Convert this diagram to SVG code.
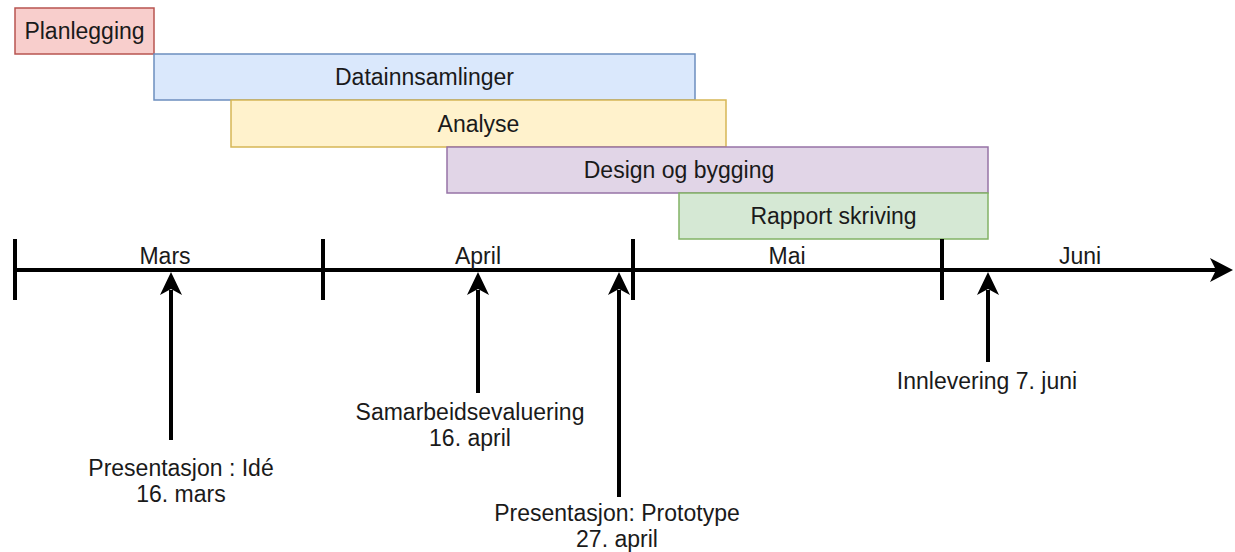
<svg xmlns="http://www.w3.org/2000/svg" width="1235" height="552" viewBox="0 0 1235 552">
<style>
  text { font-family: "Liberation Sans", Arial, Helvetica, sans-serif; font-size: 23px; fill: #1a1a1a; text-anchor: middle; }
  .bar { stroke-width: 1.5; }
  .line { stroke: #000; stroke-width: 4; fill: none; }
  .head { fill: #000; }
</style>
<rect width="1235" height="552" fill="#fff"/>
<g id="planlegging"><rect class="bar" x="15" y="8" width="139" height="46" fill="#f8cecc" stroke="#b85450"/><text x="84.5" y="39">Planlegging</text></g>
<g id="datainnsamlinger"><rect class="bar" x="154" y="54" width="541" height="46" fill="#dae8fc" stroke="#6c8ebf"/><text x="424.5" y="85">Datainnsamlinger</text></g>
<g id="analyse"><rect class="bar" x="231" y="100" width="495" height="47" fill="#fff2cc" stroke="#d6b656"/><text x="478.5" y="132">Analyse</text></g>
<g id="design"><rect class="bar" x="447" y="147" width="541" height="46" fill="#e1d5e7" stroke="#9673a6"/><text x="679" y="178">Design og bygging</text></g>
<g id="rapport"><rect class="bar" x="679" y="193" width="309" height="46" fill="#d5e8d4" stroke="#82b366"/><text x="833.5" y="224">Rapport skriving</text></g>
<g id="timeline">
  <path d="M15,270 L1220,270" stroke="#000" stroke-width="4"/>
  <path class="head" d="M1233,270 L1210,258 L1216,270 L1210,282 Z"/>
  <path d="M15,239 V300 M323,239 V300 M633,239 V300 M942,239 V300" stroke="#000" stroke-width="4"/>
  <text x="165" y="264">Mars</text>
  <text x="478" y="264">April</text>
  <text x="787" y="264">Mai</text>
  <text x="1080" y="264">Juni</text>
</g>
<g id="connectors">
  <path d="M171,440 V290" class="line"/><path class="head" d="M171,272 L160,295 L171,289 L182,295 Z"/>
  <path d="M478,393 V290" class="line"/><path class="head" d="M478,272 L467,295 L478,289 L489,295 Z"/>
  <path d="M619,497 V290" class="line"/><path class="head" d="M619,272 L608,295 L619,289 L630,295 Z"/>
  <path d="M988,362 V290" class="line"/><path class="head" d="M988,272 L977,295 L988,289 L999,295 Z"/>
</g>
<g id="m1"><text x="181" y="476">Presentasjon : Idé</text><text x="181" y="502">16. mars</text></g>
<g id="m2"><text x="470" y="420">Samarbeidsevaluering</text><text x="470" y="446">16. april</text></g>
<g id="m3"><text x="617" y="521">Presentasjon: Prototype</text><text x="617" y="547">27. april</text></g>
<g id="m4"><text x="987" y="389">Innlevering 7. juni</text></g>
</svg>
